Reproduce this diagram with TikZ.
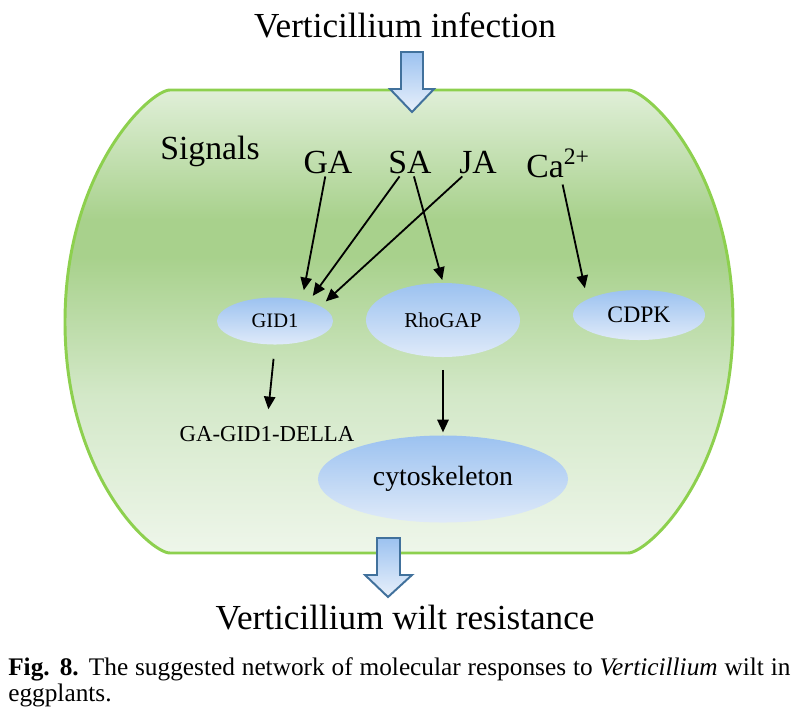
\documentclass[tikz,border=0pt]{standalone}
\usepackage{fontspec}
\setmainfont{Liberation Serif}
\usetikzlibrary{arrows.meta,shapes.geometric}
\definecolor{cellline}{HTML}{8DD04E}
\definecolor{celltop}{HTML}{E0EFD8}
\definecolor{cellmid}{HTML}{A8D18C}
\definecolor{celllow}{HTML}{D3E8C8}
\definecolor{cellbot}{HTML}{EEF6EA}
\definecolor{blobtop}{HTML}{9CC2F0}
\definecolor{blobbot}{HTML}{DFEAF9}
\definecolor{fatline}{HTML}{41719C}
\pgfdeclareverticalshading{cellfill}{100bp}{color(0bp)=(cellbot); color(25bp)=(cellbot); color(42bp)=(celllow); color(57bp)=(cellmid); color(61bp)=(cellmid); color(75bp)=(celltop); color(100bp)=(celltop)}
\tikzset{
	blob/.style={ellipse, top color=blobtop, bottom color=blobbot, inner sep=0pt},
	sig/.style={font=\fontsize{24}{28}\selectfont, inner sep=2pt},
	link/.style={-{Triangle[length=9pt,width=8pt]}, line width=1.3pt},
	fatarrow/.style={draw=fatline, line width=1.4pt, top color=blobtop, bottom color=blobbot!70!white}
}

\begin{document}
\begin{tikzpicture}[x=0.025cm, y=-0.025cm]
			%%%%% START %%%%%
			\useasboundingbox (0, 0) rectangle (797, 712);
			
			% cell
			\draw[cellline, line width=2.1pt, shading=cellfill] (170, 90) -- (628, 90)
				.. controls (648, 90) and (733, 170) .. (733, 322)
				.. controls (733, 474) and (648, 553) .. (628, 553) -- (170, 553)
				.. controls (150, 553) and (65, 474) .. (65, 322)
				.. controls (65, 170) and (150, 90) .. (170, 90) -- cycle;
			
			% block arrows
			\draw[fatarrow] (401, 52) -- (423, 52) -- (423, 89) -- (434, 89) -- (412, 112) -- (390, 89) -- (401, 89) -- cycle;
			\draw[fatarrow] (377, 538) -- (400, 538) -- (400, 575) -- (412, 575) -- (388, 597) -- (365, 575) -- (377, 575) -- cycle;
			
			\node[anchor=base, font=\fontsize{25}{30}\selectfont] (infection) at (405, 37) {Verticillium infection};
			\node[anchor=base, font=\fontsize{25}{30}\selectfont] (resistance) at (405, 629) {Verticillium wilt resistance};
			
			\node[sig, anchor=base] (signals) at (210, 159) {Signals};
			\node[sig, anchor=base] (GA) at (328, 173) {GA};
			\node[sig, anchor=base] (SA) at (410, 173) {SA};
			\node[sig, anchor=base] (JA) at (478, 173) {JA};
			\node[sig, anchor=base] (Ca) at (558, 177) {Ca\textsuperscript{2+}};
			
			\node[blob, minimum width=2.9cm, minimum height=1.175cm, font=\fontsize{14.6}{17}\selectfont] (GID1) at (275, 321) {GID1};
			\node[blob, minimum width=3.85cm, minimum height=1.85cm, font=\fontsize{15}{18}\selectfont] (RhoGAP) at (443, 320) {RhoGAP};
			\node[blob, minimum width=3.3cm, minimum height=1.25cm, font=\fontsize{16.8}{20}\selectfont] (CDPK) at (639, 315) {CDPK};
			\node[blob, minimum width=6.25cm, minimum height=2.175cm, font=\fontsize{19.7}{23}\selectfont] (cyto) at (443, 479) {cytoskeleton};
			\node[anchor=base, inner sep=2pt, font=\fontsize{16.2}{19}\selectfont] (DELLA) at (267, 441) {GA-GID1-DELLA};
			
			% signalling
			\draw[link, shorten >=7pt] (GA) -- (GID1.38);
			\draw[link, shorten >=5pt] (SA) -- (GID1.30);
			\draw[link, shorten >=5pt] (JA) -- (GID1.18);
			\draw[link, shorten >=2pt] (SA) -- (RhoGAP.north);
			\draw[link, shorten <=3pt, shorten >=8pt] (Ca) -- (CDPK.163);
			\draw[link, shorten <=10pt, shorten >=9.7pt] (GID1.south) -- (DELLA.north);
			\draw[link, shorten <=9pt, shorten >=2pt] (RhoGAP.south) -- (cyto.north);
			
			% caption
			\node[anchor=north west, inner sep=0pt, text width=19.55cm, align=justify, font=\fontsize{18}{18.5}\selectfont] (caption) at (8, 657)
				{\hyphenpenalty=10000 \textbf{Fig. 8.} The suggested network of molecular responses to \textit{Verticillium} wilt in\linebreak eggplants.};
			%%%%% END %%%%%
		\end{tikzpicture}
\end{document}
